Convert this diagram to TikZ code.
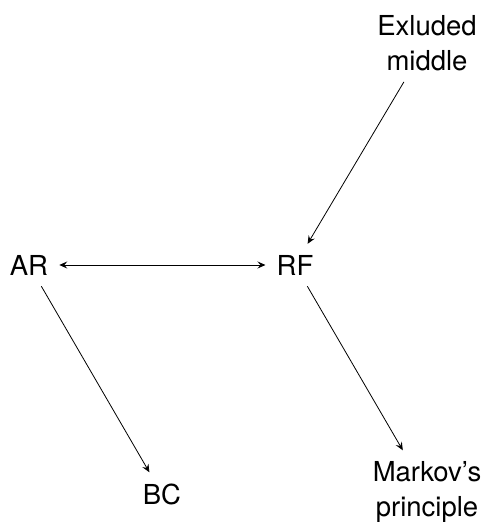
\documentclass[tikz,border=0pt]{standalone}
\usepackage{fontspec}
\setmainfont{TeX Gyre Heros}
\usetikzlibrary{arrows.meta}
\begin{document}
\begin{tikzpicture}[x=1pt,y=-1pt,
  lbl/.style={font=\fontsize{27.5}{35}\selectfont, align=center, inner sep=11pt},
  tip/.style={Stealth[length=8pt,width=7pt,inset=3pt]},
  conn/.style={line width=0.8pt, -{Stealth[length=8pt,width=7pt,inset=3pt]}},
  conn2/.style={line width=0.8pt, {Stealth[length=8pt,width=7pt,inset=3pt]}-{Stealth[length=8pt,width=7pt,inset=3pt]}}]
  \useasboundingbox (0,0) rectangle (485,524);
  \node[lbl] (em) at (427,43) {Exluded\\middle};
  \node[lbl] (ar) at (29,265) {AR};
  \node[lbl] (rf) at (295,265) {RF};
  \node[lbl] (bc) at (162,494) {BC};
  \node[lbl] (mp) at (427,492) {Markov’s\\principle};
  \draw[conn] (em) -- (rf);
  \draw[conn2] (ar) -- (rf);
  \draw[conn] (ar) -- (bc);
  \draw[conn] (rf) -- (mp);
\end{tikzpicture}
\end{document}
